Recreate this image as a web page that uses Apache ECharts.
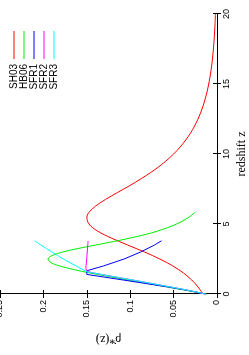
<!DOCTYPE html>
<html>
<head>
<meta charset="utf-8">
<script src="https://cdn.jsdelivr.net/npm/echarts@6/dist/echarts.min.js"></script>
<style>
html,body{margin:0;padding:0;background:#fff;overflow:hidden;width:249px;height:355px;}
#c{position:absolute;left:0;top:0;width:355px;height:249px;transform-origin:0 0;transform:translate(0px,355px) rotate(-90deg);}
</style>
</head>
<body>
<div id="c"></div>
<script>
// tick labels
const zTicks = [0, 5, 10, 15, 20];
const rhoTicks = [0, 0.05, 0.1, 0.15, 0.2, 0.25];
const seriesNames = ['SH03', 'HB06', 'SFR1', 'SFR2', 'SFR3'];

// [redshift z, rho*]
const sh03 = [[0,0.0163],[0.5,0.0218],[1,0.0291],[1.5,0.0386],[2,0.0508],[2.5,0.0658],[3,0.0835],[3.5,0.1029],[4,0.1219],[4.5,0.1377],[5,0.1475],[5.5,0.1499],[6,0.145],[6.5,0.1349],[7,0.1217],[7.5,0.1074],[8,0.0935],[9,0.069],[10,0.05],[11,0.036],[12,0.0258],[13,0.0185],[14,0.0133],[15,0.0095],[16,0.0068],[17,0.0049],[18,0.0035],[19,0.0025],[20,0.0018]];
const hb06 = [[0,0.0119],[0.25,0.0346],[0.5,0.0574],[0.75,0.0801],[1,0.1027],[1.25,0.1249],[1.5,0.1462],[1.75,0.1654],[2,0.1812],[2.25,0.1915],[2.5,0.1947],[2.75,0.1899],[3,0.1777],[3.25,0.1601],[3.5,0.1396],[3.75,0.1189],[4,0.0997],[4.25,0.0827],[4.5,0.0682],[5,0.0465],[5.5,0.032],[5.85,0.025]];
const sfr1 = [[0,0.0135],[0.25,0.033],[0.5,0.056],[0.75,0.082],[1,0.108],[1.2,0.129],[1.4,0.15],[1.66,0.15],[2,0.131],[2.5,0.107],[3,0.088],[3.5,0.072],[3.8,0.064]];
const sfr2 = [[0,0.0135],[0.25,0.032],[0.5,0.053],[0.75,0.075],[1,0.097],[1.25,0.12],[1.5,0.142],[1.6,0.148],[1.7,0.1505],[1.9,0.151],[2.2,0.1505],[2.6,0.15],[3,0.1495],[3.4,0.149],[3.8,0.1485]];
const sfr3 = [[0,0.0135],[0.25,0.032],[0.5,0.053],[0.75,0.075],[1,0.097],[1.25,0.12],[1.5,0.142],[1.6,0.15],[2,0.162],[2.5,0.177],[3,0.19],[3.5,0.203],[3.8,0.21]];

const colors = ['#ff0000', '#00ee00', '#0000ff', '#ff00ff', '#00ffff'];
const allData = [sh03, hb06, sfr1, sfr2, sfr3];

const chart = echarts.init(document.getElementById('c'), null, {renderer: 'canvas'});
const tickFont = {fontFamily: 'Liberation Sans', fontSize: 9, color: '#000'};
const axisLine = {show: true, lineStyle: {color: '#000', width: 1}};
const axisTick = {show: true, inside: true, length: 4, lineStyle: {color: '#000'}};

chart.setOption({
  animation: false,
  backgroundColor: '#fff',
  grid: {left: 61, right: 14, top: 0, bottom: 32, containLabel: false, outerBoundsMode: 'none'},
  legend: {
    orient: 'vertical', right: 26, top: 4, align: 'right',
    itemWidth: 28, itemHeight: 1, itemGap: 0, icon: 'rect',
    data: seriesNames,
    textStyle: {fontFamily: 'Liberation Sans', fontSize: 10, lineHeight: 10, color: '#000'}
  },
  xAxis: [
    {type: 'value', min: zTicks[0], max: zTicks[zTicks.length-1], interval: zTicks[1]-zTicks[0],
     position: 'bottom', axisLine, axisTick, splitLine: {show: false},
     axisLabel: Object.assign({margin: 5}, tickFont),
     name: 'redshift z', nameLocation: 'middle', nameGap: 19,
     nameTextStyle: {fontFamily: 'Liberation Serif', fontSize: 12, color: '#000'}},
    {type: 'value', min: zTicks[0], max: zTicks[zTicks.length-1], interval: zTicks[1]-zTicks[0],
     position: 'top', axisLine, axisTick, splitLine: {show: false}, axisLabel: {show: false}}
  ],
  yAxis: [
    {type: 'value', min: rhoTicks[0], max: rhoTicks[rhoTicks.length-1], interval: rhoTicks[1]-rhoTicks[0],
     position: 'left', axisLine, axisTick, splitLine: {show: false},
     axisLabel: Object.assign({margin: 6, verticalAlignMaxLabel: 'middle', formatter: v => String(+v.toFixed(2))}, tickFont),
     name: 'ρ̇*(z)', nameLocation: 'middle', nameGap: 39,
     nameTextStyle: {fontFamily: 'Liberation Serif', fontSize: 12, color: '#000'}},
    {type: 'value', min: rhoTicks[0], max: rhoTicks[rhoTicks.length-1], interval: rhoTicks[1]-rhoTicks[0],
     position: 'right', axisLine, axisTick, splitLine: {show: false}, axisLabel: {show: false}}
  ],
  series: seriesNames.map((n, i) => ({
    name: n, type: 'line', data: allData[i], xAxisIndex: 0, yAxisIndex: 0,
    showSymbol: false, symbol: 'none', smooth: i === 2 ? false : 0.35,
    lineStyle: {color: colors[i], width: 1}, itemStyle: {color: colors[i]}
  }))
});
</script>
</body>
</html>
